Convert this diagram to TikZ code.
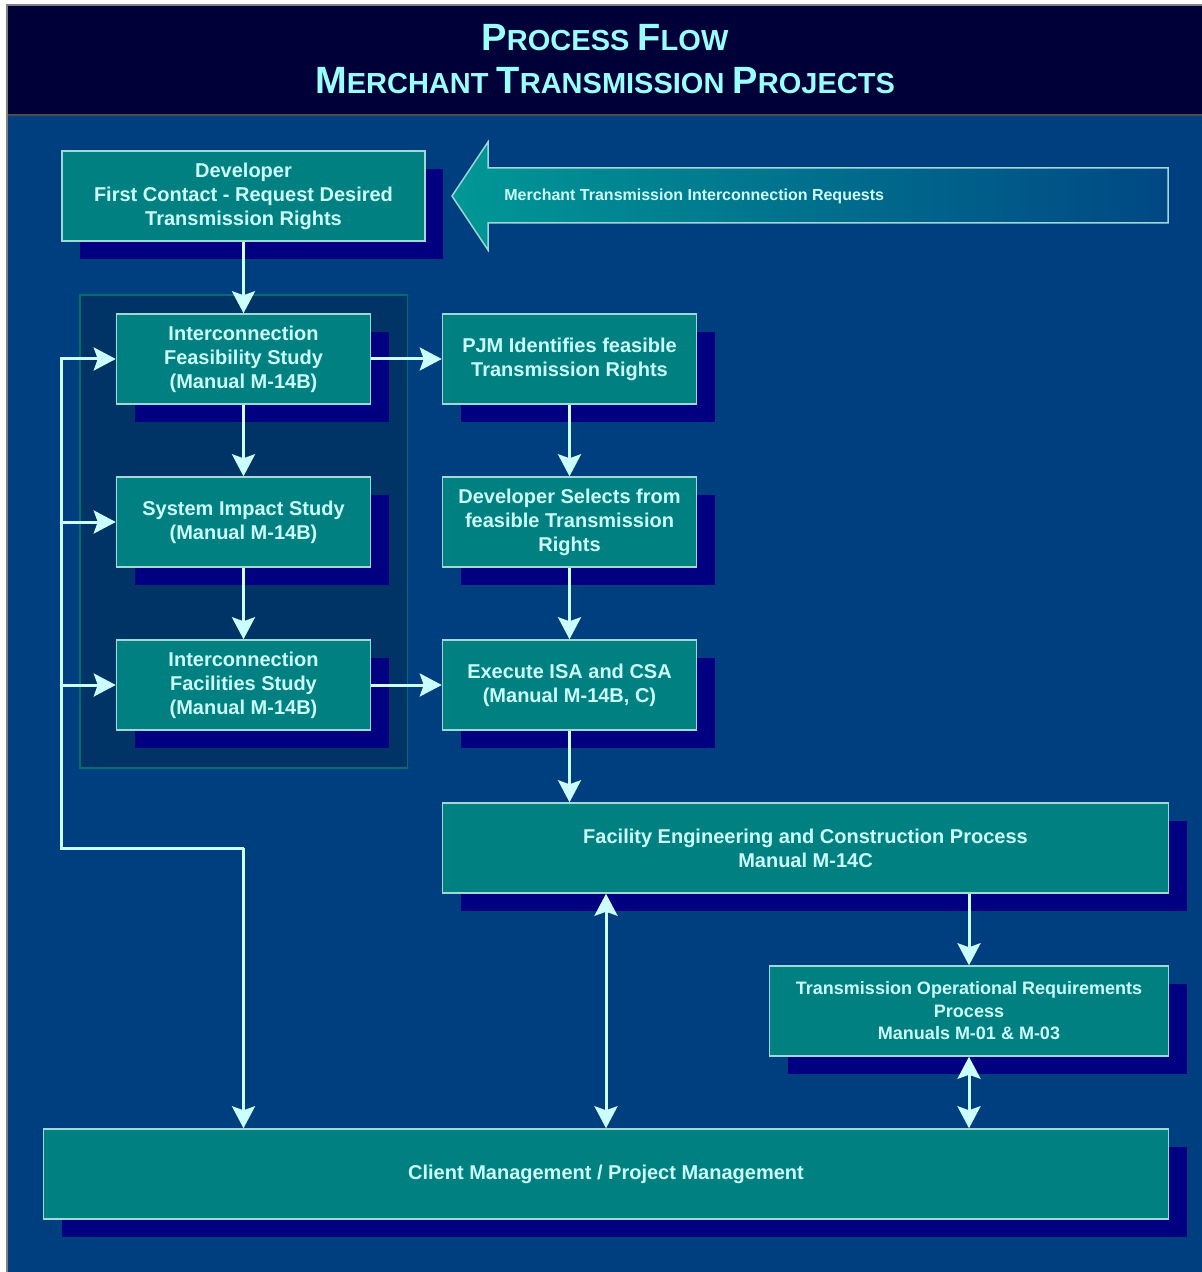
\documentclass[tikz,border=0pt]{standalone}
\usepackage{fontspec}
\setmainfont{Liberation Sans}
\usetikzlibrary{positioning,shadows,arrows.meta,backgrounds}

\definecolor{headnavy}{RGB}{0,0,56}
\definecolor{bodyblue}{RGB}{0,63,127}
\definecolor{boxteal}{RGB}{0,128,128}
\definecolor{shadownavy}{RGB}{0,0,128}
\definecolor{boxline}{RGB}{160,215,215}
\definecolor{grpfill}{RGB}{0,51,102}
\definecolor{grpline}{RGB}{0,110,110}
\definecolor{flowcyan}{RGB}{204,255,255}
\definecolor{titlecyan}{RGB}{153,255,255}
\definecolor{arrowteal}{RGB}{0,152,150}
\definecolor{arrowend}{RGB}{0,72,132}

\newcommand\titlecap[2]{{\fontsize{19}{21.5}\selectfont #1}{\fontsize{14.5}{21.5}\selectfont #2}}

\tikzset{
  box/.style={draw=boxline, line width=0.75pt, fill=boxteal, text=flowcyan,
    font=\bfseries\fontsize{10}{12}\selectfont, align=center,
    minimum width=127pt, minimum height=45pt, inner sep=2pt,
    drop shadow={shadow xshift=9pt, shadow yshift=-9pt, fill=shadownavy, opacity=1}},
  flow/.style={draw=flowcyan, line width=1.5pt,
    -{Stealth[length=11pt, width=11.5pt, inset=2pt]}},
  twoway/.style={draw=flowcyan, line width=1.5pt,
    {Stealth[length=11pt, width=11.5pt, inset=2pt]}-{Stealth[length=11pt, width=11.5pt, inset=2pt]}},
  reqlabel/.style={text=flowcyan, font=\bfseries\fontsize{8}{10}\selectfont, inner sep=0pt}
}

\begin{document}
\begin{tikzpicture}[x=0.5pt, y=-0.5pt]
  \useasboundingbox (0,0) rectangle (1202,1272);

  % title
  \node[text=titlecyan, font=\bfseries\fontsize{14.5}{21.5}\selectfont, align=center] (title) at (605,59)
    {\titlecap{P}{ROCESS} \titlecap{F}{LOW}\\
     \titlecap{M}{ERCHANT} \titlecap{T}{RANSMISSION} \titlecap{P}{ROJECTS}};

  % left column
  \node[box, minimum width=181.5pt] (dev) at (243.5,196)
    {Developer\\First Contact - Request Desired\\Transmission Rights};
  \node[box, below=35.75pt of dev] (fs) {Interconnection\\Feasibility Study\\(Manual M-14B)};
  \node[box, below=35.75pt of fs] (sis) {System Impact Study\\(Manual M-14B)};
  \node[box, below=35.75pt of sis] (ifs) {Interconnection\\Facilities Study\\(Manual M-14B)};

  % right column
  \node[box, right=35.25pt of fs] (pjm) {PJM Identifies feasible\\Transmission Rights};
  \node[box, below=35.75pt of pjm] (sel) {Developer Selects from\\feasible Transmission\\Rights};
  \node[box, below=35.75pt of sel] (isa) {Execute ISA and CSA\\(Manual M-14B, C)};

  % lower part
  \node[box, minimum width=363pt, below=35.75pt of isa.south west, anchor=north west] (fac)
    {Facility Engineering and Construction Process\\Manual M-14C};
  \node[box, font=\bfseries\fontsize{9}{11.25}\selectfont, minimum width=199.5pt,
    below=35.75pt of fac.south east, anchor=north east] (tor)
    {Transmission Operational Requirements\\Process\\Manuals M-01 \& M-03};
  \node[box, minimum width=562.5pt, below=35.75pt of tor.south east, anchor=north east] (cpm)
    {Client Management / Project Management};

  % incoming requests
  \shadedraw[left color=arrowteal, right color=arrowend, draw=boxline, line width=0.75pt]
    (452,196) -- (488,142) -- (488,168) -- (1168,168) -- (1168,223)
    -- (488,223) -- (488,250) -- cycle;
  \node[reqlabel, anchor=west] (req) at (504,196) {Merchant Transmission Interconnection Requests};

  % connectors
  \draw[flow] (dev) -- (fs);
  \draw[flow] (fs) -- (sis);
  \draw[flow] (sis) -- (ifs);
  \draw[flow] (fs) -- (pjm);
  \draw[flow] (ifs) -- (isa);
  \draw[flow] (pjm) -- (sel);
  \draw[flow] (sel) -- (isa);
  \draw[flow] (isa) -- (isa |- fac.north);
  \draw[flow] (tor |- fac.south) -- (tor);
  \draw[twoway] (tor) -- (tor |- cpm.north);
  \draw[twoway] (cpm) -- (cpm |- fac.south);

  % feedback loop
  \draw[flow] (fs |- fac) -| (dev.west |- fs) -- (fs.west);
  \draw[flow] (dev.west |- sis) -- (sis.west);
  \draw[flow] (dev.west |- ifs) -- (ifs.west);
  \draw[flow] (fs |- fac) -- (fs |- cpm.north);

  \begin{scope}[on background layer]
    \fill[white] (0,0) rectangle (1202,1272);
    \fill[headnavy] (7,5) rectangle (1202,115);
    \fill[bodyblue] (7,115) rectangle (1202,1272);
    \draw[black!70, line width=1pt] (7,115) -- (1202,115);
    \draw[gray, line width=1pt] (7,1272) -- (7,5) -- (1202,5);
    \draw[draw=grpline, fill=grpfill, line width=0.75pt]
      ([shift={(-18pt,9pt)}]fs.north west) rectangle ([shift={(18pt,-18.5pt)}]ifs.south east);
  \end{scope}
\end{tikzpicture}
\end{document}
